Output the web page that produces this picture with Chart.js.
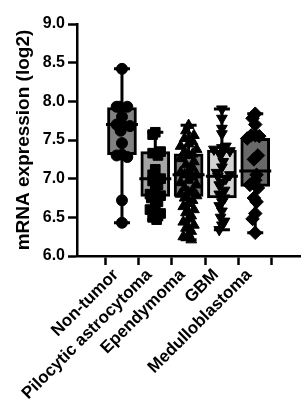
<!DOCTYPE html>
<html>
<head>
<meta charset="utf-8">
<script src="https://cdn.jsdelivr.net/npm/chart.js@4.4.0/dist/chart.umd.min.js"></script>
<style>
  body { margin: 0; background: #fff; }
  #wrap { width: 308px; height: 406px; }
</style>
</head>
<body>
<div id="wrap"><canvas id="boxChart"></canvas></div>
<script>
// groups shown on the x axis
const groups = ["Non-tumor", "Pilocytic astrocytoma", "Ependymoma", "GBM", "Medulloblastoma"];

// box plot summary
const mins    = [6.43, 6.47, 6.21, 6.34, 6.30];
const q1s     = [7.31, 6.77, 6.77, 6.75, 6.90];
const medians = [7.70, 7.00, 7.05, 7.03, 7.10];
const q3s     = [7.92, 7.35, 7.32, 7.37, 7.52];
const maxs    = [8.42, 7.60, 7.69, 7.90, 7.84];

// individual samples per group
const nonTumor = [8.42, 7.93, 7.93, 7.93, 7.80, 7.70, 7.70, 7.68, 7.62, 7.46, 7.31, 7.30, 7.28, 6.72, 6.43];
const pilocytic = [7.60, 7.57, 7.35, 7.33, 7.30, 7.12, 7.05, 7.00, 6.97, 6.92, 6.88, 6.80, 6.78, 6.75, 6.70, 6.65, 6.60, 6.55, 6.50, 6.47];
const ependymoma = [7.69, 7.62, 7.56, 7.52, 7.48, 7.45, 7.42, 7.38, 7.35, 7.32, 7.30, 7.26, 7.22, 7.18, 7.14, 7.10,
                    7.08, 7.05, 7.05, 7.02, 6.98, 6.95, 6.92, 6.88, 6.85, 6.82, 6.80, 6.78, 6.75, 6.72, 6.68, 6.64,
                    6.60, 6.56, 6.52, 6.48, 6.44, 6.40, 6.36, 6.32, 6.28, 6.25, 6.21];
const gbm = [7.90, 7.78, 7.65, 7.58, 7.42, 7.40, 7.38, 7.36, 7.30, 7.22, 7.15, 7.08, 7.05, 7.03, 7.00, 6.95,
             6.92, 6.85, 6.80, 6.75, 6.70, 6.65, 6.58, 6.50, 6.45, 6.40, 6.34];
const medullo = [7.84, 7.78, 7.70, 7.56, 7.55, 7.56, 7.52, 7.30, 7.25, 7.05, 6.98, 6.92, 6.88, 6.75, 6.70, 6.55, 6.48, 6.30];

const yTicks = [6.0, 6.5, 7.0, 7.5, 8.0, 8.5, 9.0];

const samples = [nonTumor, pilocytic, ependymoma, gbm, medullo];
const boxColors = ['#818181', '#a4a4a4', '#7b7b7b', '#d3d3d3', '#696969'];
const styles = [
    { pointStyle: 'circle', radius: 5.5, rotation: 0 },
    { pointStyle: 'rect', radius: 6.8, rotation: 0 },
    { pointStyle: 'triangle', radius: 6.2, rotation: 0 },
    { pointStyle: 'triangle', radius: 6.2, rotation: 180 },
    { pointStyle: 'rectRot', radius: 6.8, rotation: 0 }
];
const pattern = [0, -1, 1, -0.5, 0.5];

const fontFamily = "'Liberation Sans', Arial, sans-serif";

// spread points sideways where they crowd together
function spreadX(vals, i) {
    return vals.map((v, j) => {
        const near = vals.filter(w => Math.abs(w - v) < 0.07).length - 1;
        const width = Math.min(0.24, 0.08 * near);
        return i + width * pattern[j % pattern.length];
    });
}

// whiskers behind the boxes, medians right after the boxes
const boxLines = {
    id: 'boxLines',
    beforeDatasetsDraw(chart) {
        const { ctx, scales: { x, y } } = chart;
        ctx.save();
        ctx.strokeStyle = '#000';
        ctx.lineWidth = 3;
        groups.forEach((g, i) => {
            const px = x.getPixelForValue(i);
            const top = y.getPixelForValue(maxs[i]);
            const bot = y.getPixelForValue(mins[i]);
            ctx.beginPath();
            ctx.moveTo(px, top);
            ctx.lineTo(px, bot);
            ctx.moveTo(px - 8, top);
            ctx.lineTo(px + 8, top);
            ctx.moveTo(px - 8, bot);
            ctx.lineTo(px + 8, bot);
            ctx.stroke();
        });
        ctx.restore();
    },
    afterDatasetDraw(chart, args) {
        if (args.index !== 0) return;
        const { ctx, scales: { x, y } } = chart;
        ctx.save();
        ctx.strokeStyle = '#000';
        ctx.lineWidth = 3;
        groups.forEach((g, i) => {
            const px = x.getPixelForValue(i);
            const py = y.getPixelForValue(medians[i]);
            ctx.beginPath();
            ctx.moveTo(px - 16, py);
            ctx.lineTo(px + 16, py);
            ctx.stroke();
        });
        ctx.restore();
    }
};

const datasets = [{
    type: 'bar',
    data: groups.map((g, i) => ({ x: i, y: [q1s[i], q3s[i]] })),
    backgroundColor: boxColors,
    borderColor: '#000',
    borderWidth: 3,
    borderSkipped: false,
    barThickness: 29,
    order: 1
}];

samples.forEach((vals, i) => {
    const xs = spreadX(vals, i);
    datasets.push({
        type: 'scatter',
        data: vals.map((v, j) => ({ x: xs[j], y: v })),
        pointStyle: styles[i].pointStyle,
        pointRadius: styles[i].radius,
        pointRotation: styles[i].rotation,
        pointBackgroundColor: '#000',
        pointBorderColor: '#000',
        pointBorderWidth: 1,
        order: 0
    });
});

new Chart(document.getElementById('boxChart'), {
    type: 'scatter',
    data: { datasets },
    plugins: [boxLines],
    options: {
        responsive: true,
        maintainAspectRatio: false,
        animation: false,
        layout: { padding: { top: 24, right: 2, left: 0, bottom: 0 } },
        plugins: {
            legend: { display: false },
            tooltip: { enabled: false }
        },
        scales: {
            x: {
                type: 'linear',
                min: -0.68,
                max: 4.68,
                afterBuildTicks: (scale) => {
                    scale.ticks = groups.map((g, i) => ({ value: i }));
                },
                afterFit: (scale) => { scale.height = 150; },
                ticks: {
                    autoSkip: false,
                    minRotation: 45,
                    maxRotation: 45,
                    padding: 0,
                    labelOffset: -6,
                    color: '#000',
                    font: { family: fontFamily, size: 17, weight: 'bold' },
                    callback: (v) => groups[v]
                },
                grid: {
                    display: true,
                    drawOnChartArea: false,
                    tickLength: 9,
                    tickColor: '#000',
                    tickWidth: 2.5
                },
                border: { display: true, color: '#000', width: 2.5 }
            },
            y: {
                min: 6,
                max: 9,
                afterBuildTicks: (scale) => {
                    scale.ticks = yTicks.map(v => ({ value: v }));
                },
                afterFit: (scale) => { scale.width = 77; },
                ticks: {
                    padding: 3,
                    color: '#000',
                    font: { family: fontFamily, size: 16, weight: 'bold' },
                    callback: (v) => v.toFixed(1)
                },
                grid: {
                    display: true,
                    drawOnChartArea: false,
                    tickLength: 9,
                    tickColor: '#000',
                    tickWidth: 2.5
                },
                border: { display: true, color: '#000', width: 2.5 },
                title: {
                    display: true,
                    text: 'mRNA expression (log2)',
                    color: '#000',
                    padding: { top: 12, bottom: 0 },
                    font: { family: fontFamily, size: 19, weight: 'bold' }
                }
            }
        }
    }
});
</script>
</body>
</html>
